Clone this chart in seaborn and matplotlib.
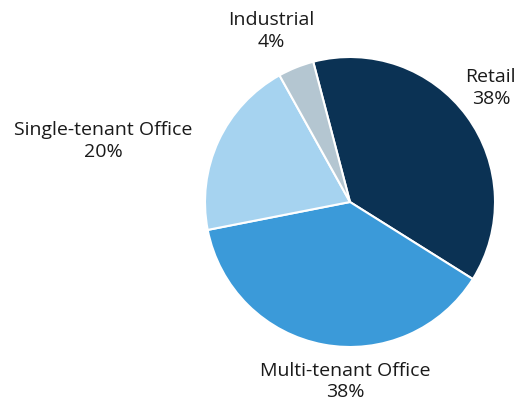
import numpy as np
import seaborn as sns
import matplotlib.pyplot as plt

# property type mix
labels = ["Retail", "Multi-tenant Office", "Single-tenant Office", "Industrial"]
shares = [38, 38, 20, 4]
colors = ["#0b3254", "#3b9ad9", "#a6d3f0", "#b4c6d1"]

sns.set_theme(style="white")
plt.rcParams['font.family'] = ['Open Sans', 'DejaVu Sans']

fig = plt.figure(figsize=(5.23, 4.04), dpi=100)
# axes box sized so the pie sits right of centre like the original
ax = fig.add_axes([205/523, 57/404, 290/523, 290/404])

wedges, _ = ax.pie(shares, colors=sns.color_palette(colors), startangle=104.7,
                   counterclock=False, radius=1.0,
                   wedgeprops=dict(edgecolor="white", linewidth=1.5))

# label offsets (angle in deg, distance in radii) picked by eye
label_pos = {"Retail": (39, 1.25),
             "Multi-tenant Office": (268.5, 1.24),
             "Single-tenant Office": (166.1, 1.75),
             "Industrial": (114.8, 1.30)}
for lab, val in zip(labels, shares):
    ang, dist = label_pos[lab]
    x = dist*np.cos(np.radians(ang))
    y = dist*np.sin(np.radians(ang))
    ax.text(x, y, f"{lab}\n{val}%", ha="center", va="center",
            fontsize=14, color="#1a1a1a", linespacing=1.25)

ax.set_xlim(-1, 1)
ax.set_ylim(-1, 1)
ax.set_aspect("equal")
ax.axis("off")

fig.savefig("out.png", dpi=100)
